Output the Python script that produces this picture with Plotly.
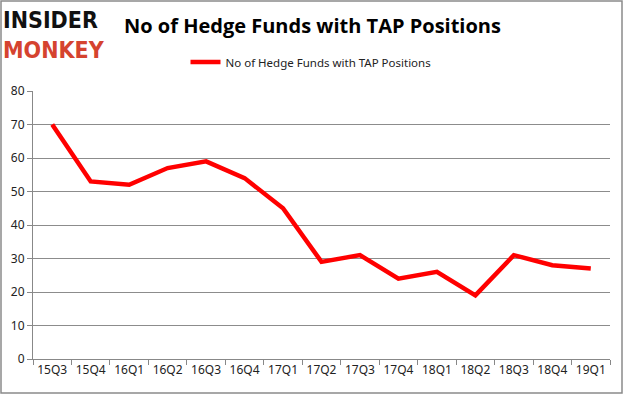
import plotly.graph_objects as go

quarters = ["15Q3", "15Q4", "16Q1", "16Q2", "16Q3", "16Q4", "17Q1", "17Q2",
            "17Q3", "17Q4", "18Q1", "18Q2", "18Q3", "18Q4", "19Q1"]
funds = [70, 53, 52, 57, 59, 54, 45, 29, 31, 24, 26, 19, 31, 28, 27]
series_name = "No of Hedge Funds with TAP Positions"
title_text = "No of Hedge Funds with TAP Positions"
y_ticks = [0, 10, 20, 30, 40, 50, 60, 70, 80]

W, H = 625, 395
ML, MR, MT, MB = 33, 15, 91, 36
pw = W - ML - MR
ph = H - MT - MB

fig = go.Figure()
fig.add_trace(go.Scatter(
    x=quarters, y=funds, mode="lines", name=series_name,
    line=dict(color="#ff0000", width=4.5),
))

fig.update_layout(
    width=W, height=H,
    margin=dict(l=ML, r=MR, t=MT, b=MB, autoexpand=False),
    paper_bgcolor="white", plot_bgcolor="white",
    showlegend=True,
    legend=dict(orientation="h", x=(311 - ML) / pw, xanchor="center", y=1 + (MT - 62) / ph,
                yanchor="middle", font=dict(family="Noto Sans", size=11.5, color="#222"),
                itemwidth=30, bgcolor="rgba(0,0,0,0)"),
    font=dict(family="Noto Sans", size=12, color="#222"),
)
fig.update_xaxes(
    type="category", range=[-0.5, len(quarters) - 0.5],
    showline=True, linecolor="#888", linewidth=1,
    ticks="outside", ticklen=5, tickcolor="#888", tickson="boundaries",
    tickangle=0,
    showgrid=False, tickfont=dict(family="Noto Sans", size=12, color="#222"),
)
fig.update_yaxes(
    range=[0, 80], tickvals=y_ticks,
    showline=True, linecolor="#888", linewidth=1,
    ticks="outside", ticklen=5, tickcolor="#888",
    showgrid=True, gridcolor="#8c8c8c", gridwidth=1, zeroline=False,
    tickfont=dict(family="Noto Sans", size=12, color="#222"),
)

# outer border
fig.add_shape(type="rect", xref="paper", yref="paper",
              x0=(1 - ML) / pw, x1=(622 - ML) / pw,
              y0=-(393 - MT - ph) / ph, y1=1 + (MT - 1) / ph,
              line=dict(color="#8a8a8a", width=1.5), fillcolor="rgba(0,0,0,0)", layer="below")

# title
fig.add_annotation(text="<b>" + title_text + "</b>", xref="paper", yref="paper",
                   x=(312 - ML) / pw, y=1 + (MT - 26) / ph, xanchor="center", yanchor="middle",
                   showarrow=False, font=dict(family="Open Sans", size=20, color="#000"))

# logo (one two-line text)
fig.add_annotation(text="<b>INSIDER</b><br><b><span style='color:#d5432f'>MONKEY</span></b>",
                   xref="paper", yref="paper", align="left",
                   x=(1 - ML) / pw, y=1 + (MT - 35) / ph, xanchor="left", yanchor="middle",
                   showarrow=False, font=dict(family="DejaVu Sans Condensed", size=23, color="#111"))

fig.write_html("out.html", config={"displayModeBar": False},
               post_script="document.body.style.margin='0';")
